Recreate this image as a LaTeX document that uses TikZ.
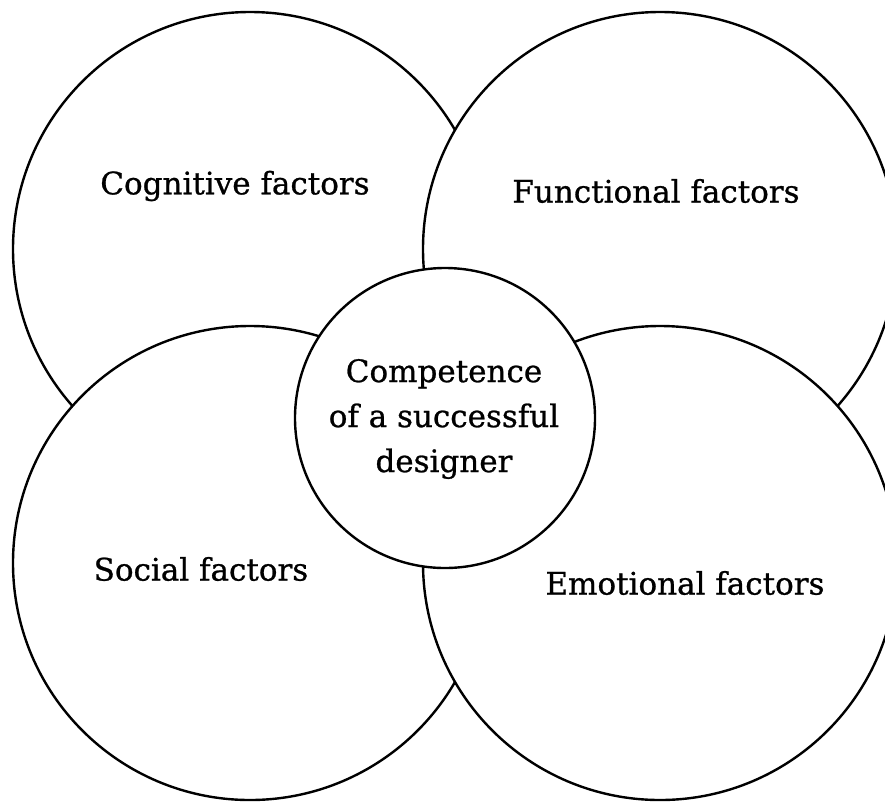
\documentclass[tikz,border=0pt]{standalone}
\usepackage{fontspec}
\setmainfont{DejaVu Serif}[FakeBold=0.8]
\begin{document}
\begin{tikzpicture}[x=1pt,y=-1pt,
  bigc/.style={circle,draw=black,fill=white,line width=2.4pt,minimum size=474pt,inner sep=0pt},
  midc/.style={circle,draw=black,fill=white,line width=2.4pt,minimum size=300pt,inner sep=0pt},
  lbl/.style={font=\fontsize{31}{36}\selectfont,inner sep=0pt,anchor=center},
  mlbl/.style={font=\fontsize{31}{45}\selectfont,inner sep=0pt,align=center}]
\useasboundingbox[fill=white] (0,0) rectangle (885,801);
\node[bigc] (cog) at (250,249) {};
\node[bigc] (fun) at (660,249) {};
\node[bigc] (soc) at (250,563) {};
\node[bigc] (emo) at (660,563) {};
\node[midc] (core) at (445,418) {};
\node[lbl] (tcog) at (235,186) {Cognitive factors};
\node[lbl] (tfun) at (656,191) {Functional factors};
\node[lbl] (tsoc) at (201,569) {Social factors};
\node[lbl] (temo) at (685,583) {Emotional factors};
\node[mlbl] (tcore) at (444,419) {Competence\\of a successful\\designer};
\end{tikzpicture}
\end{document}
